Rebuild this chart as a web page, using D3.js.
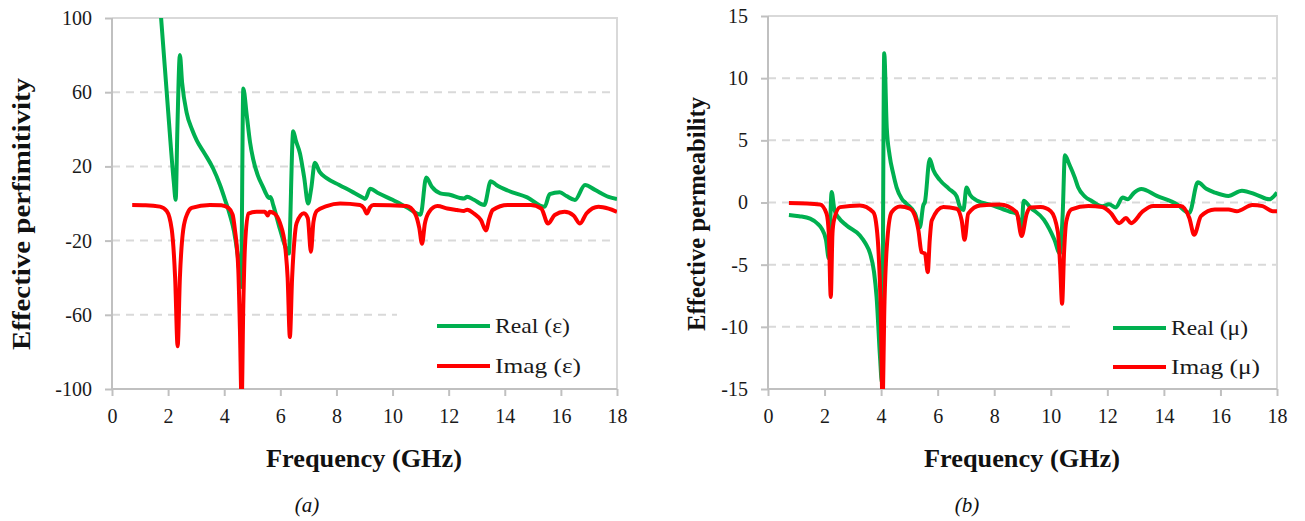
<!DOCTYPE html>
<html><head><meta charset="utf-8">
<script src="https://cdn.jsdelivr.net/npm/d3@7"></script>
<style>
body{margin:0;background:#fff;}
svg{display:block;}
</style></head>
<body>
<svg id="chart" width="1305" height="521"></svg>
<script>
// ---------- DATA ----------
const xTicks = [0,2,4,6,8,10,12,14,16,18];
const epsTicks = [-100,-60,-20,20,60,100];
const muTicks = [-15,-10,-5,0,5,10,15];

const epsRealFreq = [1.6,1.75,2.0,2.2,2.27,2.33,2.42,2.5,2.66,2.85,3.02,3.3,3.6,3.85,4.03,4.2,4.35,4.48,4.6,4.68,4.8,4.92,5.03,5.2,5.38,5.5,5.6,5.65,5.75,5.99,6.22,6.3,6.46,6.55,6.7,6.85,6.99,7.1,7.23,7.4,7.65,8.1,8.6,8.96,9.03,9.2,9.5,10.0,10.5,11.0,11.2,11.4,11.7,12.07,12.4,12.55,12.66,12.9,13.27,13.5,13.7,14.1,14.8,15.42,15.6,15.96,16.2,16.5,16.86,17.2,17.7,18.0];
const epsRealVal = [128,100,50,12,2,40,80,65,49,40,34,27,19,10,2,-6,-15,-28,-45,62,48,33,24,15,9,5,3,3.5,-1,-14,-25,-27,39,34,27,14,0,8,22,17,13.7,10,6,3,2.5,8,5.5,2,-2,-6,14,9,5.5,4.6,3,2.7,3.6,2,-0.8,12,10,7,3.3,-1.8,5,6,4,1.9,10,7.5,3.6,2.4];

const epsImagFreq = [0.72,1.2,1.71,1.95,2.13,2.25,2.34,2.42,2.54,2.7,2.84,3.49,3.9,4.15,4.3,4.38,4.5,4.56,4.62,4.68,4.74,4.86,5.16,5.45,5.55,5.62,5.8,5.99,6.17,6.26,6.34,6.42,6.5,6.58,6.84,6.98,7.09,7.18,7.3,7.65,8.13,8.84,8.98,9.08,9.2,9.32,10.5,10.8,10.95,11.05,11.15,11.3,11.6,11.95,12.3,12.55,12.66,12.9,13.15,13.33,13.45,13.57,14.1,14.93,15.3,15.54,15.78,16.13,16.45,16.68,16.91,17.34,17.7,18.0];
const epsImagVal = [-0.8,-0.9,-1.7,-4,-14,-40,-77,-40,-14,-5,-2.4,-0.8,-1,-2.4,-6,-14,-35,-68,-108,-55,-23,-5.4,-4.5,-4.5,-6.5,-4.4,-5.5,-10.6,-23,-40,-72,-40,-20,-10.6,-5.3,-8,-26,-10,-4,-1.4,0,-0.8,-2.5,-5.4,-2,-0.8,-1.4,-5.4,-13,-21.7,-11,-4.6,-1.4,-2.7,-3.5,-4,-3.4,-5.4,-9,-14.5,-8,-3.5,-0.8,-0.8,-2.7,-10.8,-6.2,-4.5,-6.5,-10.8,-5.4,-1.8,-2.8,-4.5];

const muRealFreq = [0.74,1.1,1.49,1.75,1.9,2.05,2.15,2.25,2.35,2.49,2.78,3.25,3.45,3.61,3.75,3.84,3.96,4.03,4.11,4.2,4.3,4.43,4.55,4.73,4.9,5.2,5.37,5.49,5.55,5.72,5.85,6.08,6.4,6.67,6.79,6.91,7.02,7.15,7.38,7.97,8.56,8.79,8.97,9.04,9.28,9.76,10.13,10.32,10.42,10.5,10.65,10.85,10.97,11.2,11.45,11.82,12.06,12.3,12.54,12.72,12.95,13.2,13.75,14.47,14.9,15.2,15.5,15.8,16.28,16.76,17.3,17.73,18.0];
const muRealVal = [-1.0,-1.1,-1.3,-1.7,-2.1,-3.0,-4.5,0.85,-0.6,-1.2,-1.85,-2.65,-3.3,-4.1,-5.6,-7.6,-12.4,-14.5,12,6,3.8,2.3,1.2,0.3,-0.1,-0.9,-2,-0.24,0.05,3.5,2.6,1.8,1.1,0.5,-0.37,-0.6,1.2,0.6,0.16,-0.24,-0.75,-0.9,-2,0.15,-0.4,-1.4,-3,-4.1,-1,3.8,3.1,2.0,1.2,0.5,0.12,-0.3,-0.15,-0.4,0.4,0.26,0.8,1.08,0.53,-0.15,-0.84,1.63,1.1,0.8,0.53,0.95,0.6,0.26,0.8];

const muImagFreq = [0.74,1.84,2.07,2.15,2.22,2.28,2.33,2.55,3.25,3.72,3.82,3.9,3.98,4.05,4.12,4.2,4.37,4.67,5.02,5.2,5.32,5.43,5.55,5.65,5.72,5.79,6.2,6.67,6.85,6.95,7.08,7.5,8.2,8.79,8.97,9.15,9.28,9.64,10.0,10.25,10.33,10.4,10.47,10.55,10.73,11.33,11.82,12.12,12.42,12.66,12.84,13.26,13.62,14.59,14.9,15.07,15.31,15.8,16.28,16.58,17.13,17.49,17.85,18.0];
const muImagVal = [-0.05,-0.16,-0.9,-2.5,-7.6,-2.5,-1.45,-0.37,-0.24,-0.78,-1.6,-3.6,-8,-16,-8,-3.6,-0.78,-0.32,-0.5,-1.1,-2.25,-4,-4.1,-5.6,-3,-1.45,-0.37,-0.5,-1.45,-3,-0.9,-0.24,-0.16,-0.78,-2.7,-0.9,-0.4,-0.37,-0.7,-2.35,-5,-8.15,-4,-1.5,-0.56,-0.29,-0.37,-0.84,-1.66,-1.25,-1.66,-0.7,-0.29,-0.29,-1.25,-2.6,-1.1,-0.56,-0.56,-0.7,-0.2,-0.29,-0.7,-0.7];

// ---------- DRAW ----------
const svg = d3.select("#chart");
const GREEN = "#00B050", RED = "#FF0000";
const FONT = '"Liberation Serif","Times New Roman",Tinos,"DejaVu Serif","Noto Serif",serif';

function zip(f, v){ return f.map((x,i)=>({f:x, v:v[i]})); }

function drawChart(o){
  const g = svg.append("g").attr("font-family", FONT);
  const x = d3.scaleLinear().domain([0,18]).range([o.x0, o.x1]);
  const y = d3.scaleLinear().domain([o.yTicks[0], o.yTicks[o.yTicks.length-1]]).range([o.y1, o.y0]);

  g.selectAll("line.grid").data(o.yTicks.slice(1,-1)).enter().append("line")
    .attr("x1", o.x0).attr("x2", o.x1).attr("y1", d=>y(d)).attr("y2", d=>y(d))
    .attr("stroke", "#D9D9D9").attr("stroke-width", 2).attr("stroke-dasharray", "8,6");

  g.append("path").attr("d", `M${o.x0},${o.y0}H${o.x1}V${o.y1}`)
    .attr("fill","none").attr("stroke","#D9D9D9").attr("stroke-width",2);

  g.append("rect").attr("x", o.legX - 40).attr("y", o.legY - 26).attr("width", o.x1 - (o.legX - 40) - 1)
    .attr("height", o.y1 - (o.legY - 26) - 2).attr("fill","#fff");

  const yAxis = d3.axisLeft(y).tickValues(o.yTicks).tickSize(7).tickPadding(13).tickFormat(d=>d);
  const xAxis = d3.axisBottom(x).tickValues(xTicks).tickSize(7).tickPadding(13);
  const ya = g.append("g").attr("transform",`translate(${o.x0},0)`).call(yAxis);
  const xa = g.append("g").attr("transform",`translate(0,${o.y1})`).call(xAxis);
  [ya, xa].forEach(a=>{
    a.attr("font-family", FONT).attr("font-size", 20);
    a.select(".domain").attr("stroke","#C0C0C0").attr("stroke-width",2);
    a.selectAll(".tick line").attr("stroke","#C0C0C0").attr("stroke-width",2);
    a.selectAll(".tick text").attr("fill","#1a1a1a").attr("font-family", FONT).attr("font-size", 20);
  });
  ya.select(".domain").attr("d", `M0,${o.y0}V${o.y1}`);
  xa.select(".domain").attr("d", `M${o.x0},0H${o.x1}`);

  const cid = "clip" + o.id;
  svg.append("clipPath").attr("id", cid).append("rect")
    .attr("x", o.x0).attr("y", o.y0).attr("width", o.x1-o.x0).attr("height", o.y1-o.y0);

  const line = d3.line().x(d=>x(d.f)).y(d=>y(d.v)).curve(d3.curveMonotoneX);
  const lg = g.append("g").attr("clip-path", `url(#${cid})`);
  lg.append("path").datum(zip(o.realF, o.realV)).attr("d", line)
    .attr("fill","none").attr("stroke",GREEN).attr("stroke-width",4).attr("stroke-linejoin","round");
  lg.append("path").datum(zip(o.imagF, o.imagV)).attr("d", line)
    .attr("fill","none").attr("stroke",RED).attr("stroke-width",4).attr("stroke-linejoin","round");

  const leg = [{t:o.legReal, c:GREEN, dy:0, w:o.legRealW},{t:o.legImag, c:RED, dy:o.legGap, w:o.legImagW}];
  leg.forEach(L=>{
    g.append("line").attr("x1", o.legX).attr("x2", o.legX+53).attr("y1", o.legY+L.dy).attr("y2", o.legY+L.dy)
      .attr("stroke", L.c).attr("stroke-width",4);
    g.append("text").attr("x", o.legX+58).attr("y", o.legY+L.dy+7).text(L.t)
      .attr("font-family", FONT).attr("font-size", 22).attr("fill","#1a1a1a")
      .attr("textLength", L.w).attr("lengthAdjust","spacingAndGlyphs");
  });

  g.append("text").attr("transform",`translate(${o.yTitleX},${o.yTitleY}) rotate(-90)`)
    .attr("text-anchor","middle").attr("font-size", 25).attr("font-weight","bold")
    .attr("font-family", FONT).attr("fill","#111").text(o.yTitle)
    .attr("textLength", o.yTitleLen).attr("lengthAdjust","spacingAndGlyphs");
  g.append("text").attr("x", o.xTitleX).attr("y", 467).attr("text-anchor","middle")
    .attr("font-size", 25).attr("font-weight","bold").attr("font-family", FONT)
    .attr("fill","#111").text("Frequency (GHz)")
    .attr("textLength", 196).attr("lengthAdjust","spacingAndGlyphs");
  g.append("text").attr("x", o.capX).attr("y", 512).attr("text-anchor","middle")
    .attr("font-size", 21).attr("font-style","italic").attr("font-family", FONT)
    .attr("fill","#111").text(o.cap);
}

drawChart({id:"a", x0:112, x1:617, y0:18, y1:389, yTicks:epsTicks,
  realF:epsRealFreq, realV:epsRealVal, imagF:epsImagFreq, imagV:epsImagVal,
  legX:437, legY:326, legGap:40, legReal:"Real (ε)", legImag:"Imag (ε)", legRealW:75, legImagW:86,
  yTitle:"Effective perfimitivity", yTitleX:30, yTitleY:214, yTitleLen:272, xTitleX:364, capX:307, cap:"(a)"});

drawChart({id:"b", x0:768, x1:1277, y0:16, y1:389, yTicks:muTicks,
  realF:muRealFreq, realV:muRealVal, imagF:muImagFreq, imagV:muImagVal,
  legX:1113, legY:328, legGap:39, legReal:"Real (μ)", legImag:"Imag (μ)", legRealW:77, legImagW:89,
  yTitle:"Effective permeability", yTitleX:705, yTitleY:214, yTitleLen:234, xTitleX:1022, capX:967, cap:"(b)"});
</script>
</body></html>
